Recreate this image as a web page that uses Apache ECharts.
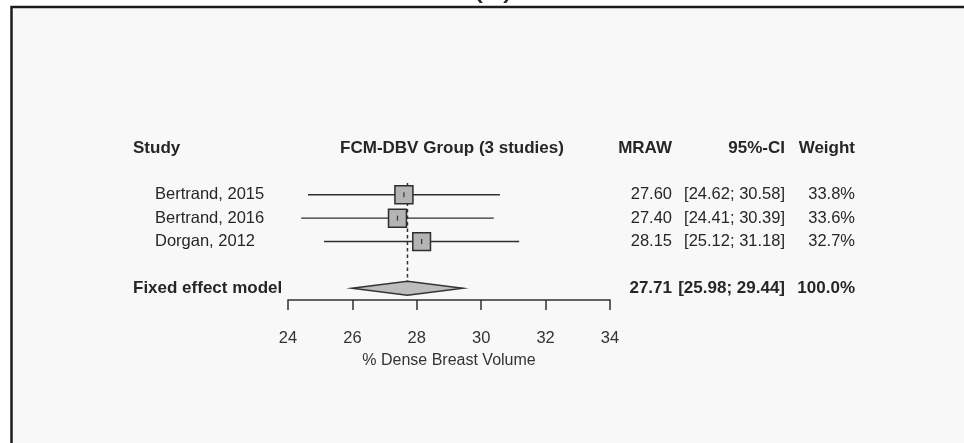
<!DOCTYPE html>
<html>
<head>
<meta charset="utf-8">
<script src="https://cdn.jsdelivr.net/npm/echarts@6/dist/echarts.min.js"></script>
<style>
  html, body { margin: 0; padding: 0; background: #ffffff; }
  #chart { width: 964px; height: 443px; }
</style>
</head>
<body>
<div id="chart"></div>
<script>
// Forest plot: fixed-effect meta-analysis of mean % dense breast volume
const studies   = ['Bertrand, 2015', 'Bertrand, 2016', 'Dorgan, 2012'];
const mraw      = [27.60, 27.40, 28.15];
const ciLow     = [24.62, 24.41, 25.12];
const ciHigh    = [30.58, 30.39, 31.18];
const weights   = [33.8, 33.6, 32.7];

const pooledLabel  = 'Fixed effect model';
const pooledEst    = 27.71;
const pooledCI     = [25.98, 29.44];
const pooledWeight = 100.0;

const headers   = ['Study', 'FCM-DBV Group (3 studies)', 'MRAW', '95%-CI', 'Weight'];
const axisTitle = '% Dense Breast Volume';
const xMin = 24, xMax = 34, xStep = 2;

// row slots on the hidden vertical scale
const headerRow = 0;
const studyRows = [2, 3, 4];
const pooledRow = 6;

const FONT = 'Liberation Sans, Arial, sans-serif';
const INK = '#262626';
const COL = { study: 133, name: 155, group: 452, mraw: 672, ci: 785, weight: 855 };

const fmt2 = v => v.toFixed(2);
const ciText = (lo, hi) => '[' + fmt2(lo) + '; ' + fmt2(hi) + ']';

const studyData = studies.map((s, i) => [mraw[i], ciLow[i], ciHigh[i], studyRows[i], weights[i]]);

// table rows: [row, label, mraw, ci, weight, bold, labelX, groupTitle]
const tableRows = [
  [headerRow, headers[0], headers[2], headers[3], headers[4], true, COL.study, headers[1]],
  ...studies.map((s, i) => [studyRows[i], s, fmt2(mraw[i]), ciText(ciLow[i], ciHigh[i]), weights[i].toFixed(1) + '%', false, COL.name, '']),
  [pooledRow, pooledLabel, fmt2(pooledEst), ciText(pooledCI[0], pooledCI[1]), pooledWeight.toFixed(1) + '%', true, COL.study, '']
];

function txt(text, x, y, align, bold, size) {
  return {
    type: 'text',
    style: {
      text: text, x: x, y: y, align: align, verticalAlign: 'middle',
      fontFamily: FONT, fontSize: size, fontWeight: bold ? 'bold' : 'normal', fill: INK
    }
  };
}

const chart = echarts.init(document.getElementById('chart'), null, { renderer: 'canvas' });

chart.setOption({
  animation: false,
  backgroundColor: '#ffffff',
  graphic: [
    { type: 'text', z: -20, left: 471, top: -33,
      style: { text: '(b)', fontFamily: FONT, fontSize: 36, fill: INK } },
    { type: 'rect', z: -10, shape: { x: 11.5, y: 7, width: 1000, height: 500 },
      style: { fill: '#f8f8f8', stroke: '#1c1c1c', lineWidth: 2.5 } }
  ],
  grid: { left: 288, right: 354, top: 148, height: 152 },
  xAxis: {
    type: 'value', min: xMin, max: xMax, interval: xStep,
    position: 'bottom',
    axisLine: { show: true, onZero: false, lineStyle: { color: '#303030', width: 1.5 } },
    axisTick: { show: true, length: 10, lineStyle: { color: '#303030', width: 1.5 } },
    axisLabel: { margin: 30, fontSize: 16.5, fontFamily: FONT, color: '#333' },
    splitLine: { show: false },
    name: axisTitle, nameLocation: 'middle', nameGap: 53,
    nameTextStyle: { fontSize: 16, fontFamily: FONT, color: '#333' }
  },
  yAxis: { type: 'value', min: 0, max: 6.5, inverse: true, show: false },
  series: [
    {
      // reference line at the pooled estimate
      type: 'custom', z: 1,
      data: [[pooledEst, 1.5, pooledRow - 0.3]],
      renderItem: (params, api) => {
        const a = api.coord([api.value(0), api.value(1)]);
        const b = api.coord([api.value(0), api.value(2)]);
        return { type: 'line', shape: { x1: a[0], y1: a[1], x2: b[0], y2: b[1] },
          style: { stroke: '#333', lineWidth: 1.5, lineDash: [3.5, 3] } };
      }
    },
    {
      // individual studies: CI whisker + weighted box
      type: 'custom', z: 2,
      data: studyData,
      renderItem: (params, api) => {
        const row = api.value(3);
        const c = api.coord([api.value(0), row]);
        const l = api.coord([api.value(1), row]);
        const h = api.coord([api.value(2), row]);
        const side = 18 * Math.sqrt(api.value(4) / 33.8);
        return { type: 'group', children: [
          { type: 'line', shape: { x1: l[0], y1: c[1], x2: h[0], y2: c[1] },
            style: { stroke: '#2e2e2e', lineWidth: 1.4 } },
          { type: 'rect', shape: { x: c[0] - side / 2, y: c[1] - side / 2, width: side, height: side },
            style: { fill: '#b4b4b4', stroke: '#2e2e2e', lineWidth: 1.5 } },
          { type: 'line', shape: { x1: c[0], y1: c[1] - 2.5, x2: c[0], y2: c[1] + 2.5 },
            style: { stroke: '#333', lineWidth: 1.2 } }
        ] };
      }
    },
    {
      // pooled diamond
      type: 'custom', z: 3,
      data: [[pooledEst, pooledCI[0], pooledCI[1], pooledRow]],
      renderItem: (params, api) => {
        const row = api.value(3);
        const c = api.coord([api.value(0), row]);
        const l = api.coord([api.value(1), row]);
        const h = api.coord([api.value(2), row]);
        const hh = 7;
        return { type: 'polygon',
          shape: { points: [[l[0], c[1]], [c[0], c[1] - hh], [h[0], c[1]], [c[0], c[1] + hh]] },
          style: { fill: '#bdbdbd', stroke: '#333', lineWidth: 1.4 } };
      }
    },
    {
      // text table: study labels, estimates, intervals and weights
      type: 'custom', z: 4,
      data: tableRows,
      renderItem: (params, api) => {
        const d = tableRows[params.dataIndex];
        const y = api.coord([xMin, d[0]])[1];
        const bold = d[5];
        const size = bold ? 17 : 16.5;
        const kids = [
          txt(d[1], d[6], y, 'left', bold, size),
          txt(d[2], COL.mraw, y, 'right', bold, size),
          txt(d[3], COL.ci, y, 'right', bold, size),
          txt(d[4], COL.weight, y, 'right', bold, size)
        ];
        if (d[7]) kids.push(txt(d[7], COL.group, y, 'center', true, 17));
        return { type: 'group', children: kids };
      }
    }
  ]
});
</script>
</body>
</html>
